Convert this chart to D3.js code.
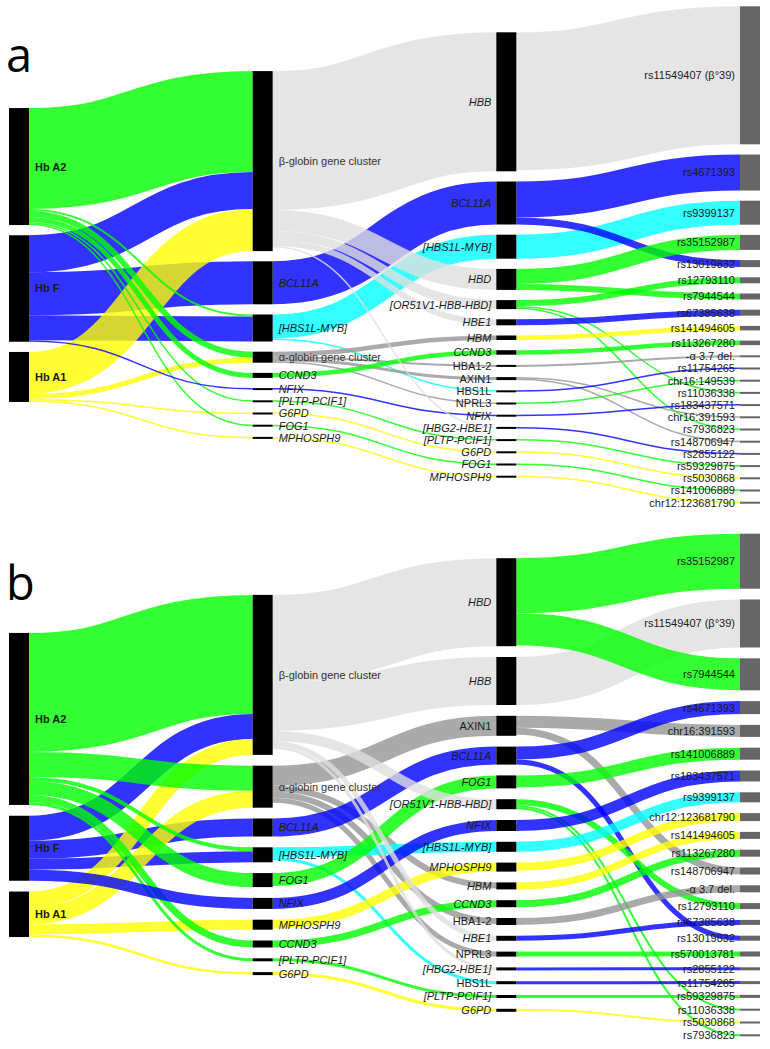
<!DOCTYPE html>
<html><head><meta charset="utf-8">
<script src="https://cdn.jsdelivr.net/npm/d3@7"></script>
<style>
body{margin:0;background:#fff}
svg{display:block}
text{font-family:"Liberation Sans",Arial,sans-serif}
</style>
</head><body>
<svg id="chart" width="770" height="1049"></svg>
<script>
// ---------- Panel a ----------
const traitsA = ["Hb A2","Hb F","Hb A1"];
const lociA = ["β-globin gene cluster","BCL11A","[HBS1L-MYB]","α-globin gene cluster","CCND3","NFIX","[PLTP-PCIF1]","G6PD","FOG1","MPHOSPH9"];
const genesA = ["HBB","BCL11A","[HBS1L-MYB]","HBD","[OR51V1-HBB-HBD]","HBE1","HBM","CCND3","HBA1-2","AXIN1","HBS1L","NPRL3","NFIX","[HBG2-HBE1]","[PLTP-PCIF1]","G6PD","FOG1","MPHOSPH9"];
const snpsA = ["rs11549407 (β°39)","rs4671393","rs9399137","rs35152987","rs13019832","rs12793110","rs7944544","rs67385638","rs141494605","rs113267280","-α 3.7 del.","rs11754265","chr16:149539","rs11036338","rs183437571","chr16:391593","rs7936823","rs148706947","rs2855122","rs59329875","rs5030868","rs141006889","chr12:123681790"];

const traitLocusA = [
  ["Hb F","β-globin gene cluster",37,"B"],
  ["Hb F","BCL11A",43,"B"],
  ["Hb F","[HBS1L-MYB]",25,"B"],
  ["Hb A1","β-globin gene cluster",42,"Y"],
  ["Hb A1","α-globin gene cluster",5,"Y"],
  ["Hb A1","G6PD",1.5,"Y"],
  ["Hb A1","MPHOSPH9",1.5,"Y"],
  ["Hb A2","β-globin gene cluster",101,"G"],
  ["Hb A2","[HBS1L-MYB]",2,"G"],
  ["Hb A2","α-globin gene cluster",6,"G"],
  ["Hb A2","CCND3",5,"G"],
  ["Hb A2","[PLTP-PCIF1]",1.5,"G"],
  ["Hb A2","FOG1",1.5,"G"],
  ["Hb F","NFIX",1.5,"B"]
];
const locusGeneA = [
  ["BCL11A","BCL11A",43,"B"],
  ["[HBS1L-MYB]","[HBS1L-MYB]",24,"C"],
  ["[HBS1L-MYB]","HBS1L",1.5,"C"],
  ["α-globin gene cluster","HBM",4.5,"M"],
  ["α-globin gene cluster","HBA1-2",2,"M"],
  ["α-globin gene cluster","AXIN1",3,"M"],
  ["α-globin gene cluster","NPRL3",1.5,"M"],
  ["CCND3","CCND3",4.5,"G"],
  ["NFIX","NFIX",1.5,"B"],
  ["[PLTP-PCIF1]","[PLTP-PCIF1]",1.5,"G"],
  ["G6PD","G6PD",1.5,"Y"],
  ["FOG1","FOG1",1.5,"G"],
  ["MPHOSPH9","MPHOSPH9",1.5,"Y"],
  ["β-globin gene cluster","HBB",139,"L"],
  ["β-globin gene cluster","HBD",21,"L"],
  ["β-globin gene cluster","[OR51V1-HBB-HBD]",9,"L"],
  ["β-globin gene cluster","HBE1",6,"L"],
  ["β-globin gene cluster","[HBG2-HBE1]",1.5,"L"]
];
const geneSnpA = [
  ["HBB","rs11549407 (β°39)",138,"L"],
  ["BCL11A","rs4671393",36,"B"],
  ["[HBS1L-MYB]","rs9399137",24,"C"],
  ["BCL11A","rs13019832",7,"B"],
  ["HBD","rs35152987",15,"G"],
  ["HBD","rs7944544",6,"G"],
  ["[OR51V1-HBB-HBD]","rs12793110",6,"G"],
  ["[OR51V1-HBB-HBD]","rs11036338",1.5,"G"],
  ["[OR51V1-HBB-HBD]","rs7936823",1.5,"G"],
  ["HBE1","rs67385638",6,"B"],
  ["HBM","rs141494605",4.5,"Y"],
  ["CCND3","rs113267280",4.5,"G"],
  ["HBA1-2","-α 3.7 del.",2,"M"],
  ["AXIN1","chr16:391593",1.5,"M"],
  ["AXIN1","rs148706947",1.5,"M"],
  ["HBS1L","rs11754265",1.5,"B"],
  ["NPRL3","chr16:149539",1.5,"G"],
  ["NFIX","rs183437571",1.5,"B"],
  ["[HBG2-HBE1]","rs2855122",1.5,"B"],
  ["[PLTP-PCIF1]","rs59329875",1.5,"G"],
  ["G6PD","rs5030868",1.5,"Y"],
  ["FOG1","rs141006889",1.5,"G"],
  ["MPHOSPH9","chr12:123681790",1.5,"Y"]
];

// ---------- Panel b ----------
const traitsB = ["Hb A2","Hb F","Hb A1"];
const lociB = ["β-globin gene cluster","α-globin gene cluster","BCL11A","[HBS1L-MYB]","FOG1","NFIX","MPHOSPH9","CCND3","[PLTP-PCIF1]","G6PD"];
const genesB = ["HBD","HBB","AXIN1","BCL11A","FOG1","[OR51V1-HBB-HBD]","NFIX","[HBS1L-MYB]","MPHOSPH9","HBM","CCND3","HBA1-2","HBE1","NPRL3","[HBG2-HBE1]","HBS1L","[PLTP-PCIF1]","G6PD"];
const snpsB = ["rs35152987","rs11549407 (β°39)","rs7944544","rs4671393","chr16:391593","rs141006889","rs183437571","rs9399137","chr12:123681790","rs141494605","rs113267280","rs148706947","-α 3.7 del.","rs12793110","rs67385638","rs13019832","rs570013781","rs2855122","rs11754265","rs59329875","rs11036338","rs5030868","rs7936823"];

const traitLocusB = [
  ["Hb F","β-globin gene cluster",25,"B"],
  ["Hb F","BCL11A",18,"B"],
  ["Hb F","[HBS1L-MYB]",11,"B"],
  ["Hb A1","β-globin gene cluster",16,"Y"],
  ["Hb A1","α-globin gene cluster",17,"Y"],
  ["Hb A1","MPHOSPH9",10,"Y"],
  ["Hb A1","G6PD",2.5,"Y"],
  ["Hb A2","β-globin gene cluster",119,"G"],
  ["Hb A2","α-globin gene cluster",25,"G"],
  ["Hb A2","[HBS1L-MYB]",4,"G"],
  ["Hb A2","FOG1",14,"G"],
  ["Hb A2","CCND3",7,"G"],
  ["Hb A2","[PLTP-PCIF1]",3,"G"],
  ["Hb F","NFIX",11,"B"]
];
const locusGeneB = [
  ["α-globin gene cluster","AXIN1",20,"M"],
  ["α-globin gene cluster","HBM",6,"M"],
  ["α-globin gene cluster","HBA1-2",6,"M"],
  ["α-globin gene cluster","NPRL3",5,"M"],
  ["BCL11A","BCL11A",18,"B"],
  ["[HBS1L-MYB]","[HBS1L-MYB]",10,"C"],
  ["[HBS1L-MYB]","HBS1L",3,"C"],
  ["FOG1","FOG1",13,"G"],
  ["NFIX","NFIX",11,"B"],
  ["MPHOSPH9","MPHOSPH9",9,"Y"],
  ["CCND3","CCND3",7,"G"],
  ["[PLTP-PCIF1]","[PLTP-PCIF1]",3,"G"],
  ["G6PD","G6PD",3,"Y"],
  ["β-globin gene cluster","HBD",88,"L"],
  ["β-globin gene cluster","HBB",48,"L"],
  ["β-globin gene cluster","[OR51V1-HBB-HBD]",10,"L"],
  ["β-globin gene cluster","HBE1",5,"L"],
  ["β-globin gene cluster","[HBG2-HBE1]",3,"L"]
];
const geneSnpB = [
  ["HBB","rs11549407 (β°39)",48,"L"],
  ["HBD","rs35152987",55,"G"],
  ["HBD","rs7944544",32,"G"],
  ["AXIN1","chr16:391593",12,"M"],
  ["AXIN1","rs148706947",7,"M"],
  ["BCL11A","rs4671393",13,"B"],
  ["BCL11A","rs13019832",5,"B"],
  ["FOG1","rs141006889",12,"G"],
  ["[OR51V1-HBB-HBD]","rs12793110",6,"G"],
  ["[OR51V1-HBB-HBD]","rs11036338",2,"G"],
  ["[OR51V1-HBB-HBD]","rs7936823",2,"G"],
  ["NFIX","rs183437571",11,"B"],
  ["[HBS1L-MYB]","rs9399137",10,"C"],
  ["MPHOSPH9","chr12:123681790",8,"Y"],
  ["HBM","rs141494605",7,"Y"],
  ["CCND3","rs113267280",7,"G"],
  ["HBA1-2","-α 3.7 del.",7,"M"],
  ["HBE1","rs67385638",5,"B"],
  ["NPRL3","rs570013781",5,"G"],
  ["[HBG2-HBE1]","rs2855122",3,"B"],
  ["HBS1L","rs11754265",3,"B"],
  ["[PLTP-PCIF1]","rs59329875",3,"G"],
  ["G6PD","rs5030868",2,"Y"]
];

const linkColors = {G:"#00ff00", B:"#0000ff", Y:"#ffff00", C:"#00ffff", L:"#dedede", M:"#959595"};
const uprightGenes = ["HBA1-2","AXIN1","HBS1L","NPRL3"];
const clusters = ["β-globin gene cluster","α-globin gene cluster"];

// ---------- drawing ----------
const svg = d3.select("#chart");
const NODE_W = 20, MIN_H = 2;
const xCol = d3.scaleLinear().domain([0, 3]).range([9, 740]);
const vScale = d3.scaleLinear().domain([0, 100]).range([0, 100]);
const linkGen = d3.linkHorizontal();

function layout(cols, stages, center, pad) {
  const nodes = cols.map((names, c) => names.map(name => ({name, col: c, ins: [], outs: []})));
  const maps = nodes.map(col => new Map(col.map(n => [n.name, n])));
  const links = [];
  stages.forEach((st, s) => st.forEach(([a, b, v, k]) => {
    const l = {source: maps[s].get(a), target: maps[s + 1].get(b), value: v, color: k};
    l.source.outs.push(l); l.target.ins.push(l); links.push(l);
  }));
  nodes.forEach(col => {
    col.forEach(n => {
      n.value = Math.max(d3.sum(n.ins, l => l.value), d3.sum(n.outs, l => l.value));
      n.h = Math.max(vScale(n.value), MIN_H);
    });
    const total = d3.sum(col, n => n.h) + pad * (col.length - 1);
    let y = center - total / 2;
    col.forEach(n => { n.y0 = y; n.y1 = y + n.h; y = n.y1 + pad; });
  });
  nodes.flat().forEach(n => {
    const outs = n.outs.slice().sort((a, b) => a.target.y0 - b.target.y0);
    const ins = n.ins.slice().sort((a, b) => a.source.y0 - b.source.y0);
    let y = n.y0;
    outs.forEach(l => { l.w = vScale(l.value); l.sy = y + l.w / 2; y += l.w; });
    y = n.y0;
    ins.forEach(l => { const w = vScale(l.value); l.ty = y + w / 2; y += w; });
  });
  return {nodes: nodes.flat(), links};
}

function drawPanel(cols, stages, center, pad, letter, letterY) {
  const {nodes, links} = layout(cols, stages, center, pad);
  const g = svg.append("g");
  g.append("text").attr("x", 6).attr("y", letterY)
    .style("font-family", "'Open Sans', sans-serif").style("font-size", "47px")
    .attr("fill", "#000").text(letter);

  g.append("g").selectAll("path").data(links).join("path")
    .attr("d", l => linkGen({source: [xCol(l.source.col) + NODE_W, l.sy], target: [xCol(l.target.col), l.ty]}))
    .attr("fill", "none")
    .attr("stroke", l => linkColors[l.color])
    .attr("stroke-opacity", 0.8)
    .attr("stroke-width", l => Math.max(l.w, 1.2));

  g.append("g").selectAll("rect").data(nodes).join("rect")
    .attr("x", n => xCol(n.col)).attr("y", n => n.y0)
    .attr("width", NODE_W).attr("height", n => n.h)
    .attr("fill", n => n.col === 3 ? "#666" : "#000");

  g.append("g").selectAll("text").data(nodes).join("text")
    .attr("x", n => n.col <= 1 ? xCol(n.col) + NODE_W + 6 : xCol(n.col) - 5)
    .attr("y", n => (n.y0 + n.y1) / 2)
    .attr("dy", "0.36em")
    .attr("text-anchor", n => n.col <= 1 ? "start" : "end")
    .style("font-size", "11px")
    .style("font-weight", n => n.col === 0 ? "bold" : "normal")
    .style("font-style", n => {
      if (n.col === 1) return clusters.includes(n.name) ? "normal" : "italic";
      if (n.col === 2) return uprightGenes.includes(n.name) ? "normal" : "italic";
      return "normal";
    })
    .attr("fill", n => (n.col === 1 && clusters.includes(n.name)) ? "#333" : "#1a1a1a")
    .text(n => n.name);
}

drawPanel([traitsA, lociA, genesA, snpsA], [traitLocusA, locusGeneA, geneSnpA], 255, 10.2, "a", 72);
drawPanel([traitsB, lociB, genesB, snpsB], [traitLocusB, locusGeneB, geneSnpB], 785, 10.8, "b", 600);
</script>
</body></html>
